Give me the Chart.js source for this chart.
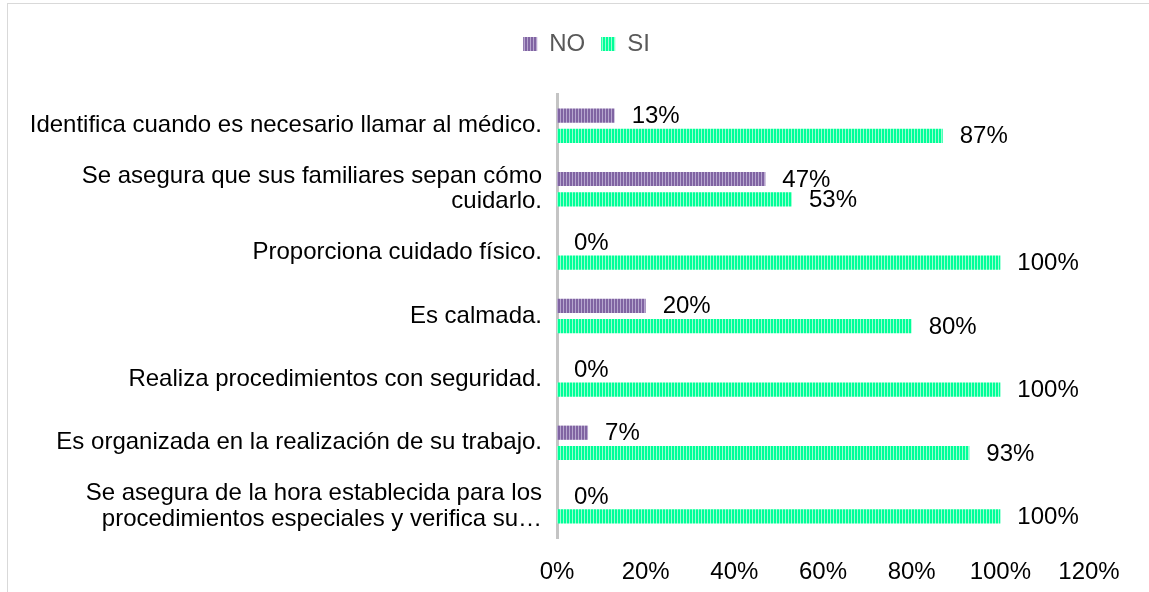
<!DOCTYPE html>
<html>
<head>
<meta charset="utf-8">
<script src="https://cdn.jsdelivr.net/npm/chart.js@4/dist/chart.umd.min.js"></script>
<style>
  html, body { margin: 0; padding: 0; background: #fff; }
  #wrap { position: absolute; left: 0; top: 0; width: 1149px; height: 592px; }
  #frame { position: absolute; left: 7px; top: 3px; width: 1160px; height: 620px; border: 1px solid #d9d9d9; pointer-events: none; }
</style>
</head>
<body>
<div id="wrap"><canvas id="chart" width="1149" height="592"></canvas></div>
<div id="frame"></div>
<script>
// categories top to bottom
const categories = [
  'Identifica cuando es necesario llamar al médico.',
  ['Se asegura que sus familiares sepan cómo', 'cuidarlo.'],
  'Proporciona cuidado físico.',
  'Es calmada.',
  'Realiza procedimientos con seguridad.',
  'Es organizada en la realización de su trabajo.',
  ['Se asegura de la hora establecida para los', 'procedimientos especiales y verifica su…'],
]
const noValues = [13, 47, 0, 20, 0, 7, 0]
const siValues = [87, 53, 100, 80, 100, 93, 100]
const xTicks = [0, 20, 40, 60, 80, 100, 120]

const FONT = "'Liberation Sans', Arial, sans-serif"

// vertical stripe fill like the original
function stripes(dark, light) {
  const c = document.createElement('canvas')
  c.width = 3; c.height = 4
  const g = c.getContext('2d')
  g.fillStyle = dark; g.fillRect(0, 0, 2, 4)
  g.fillStyle = light; g.fillRect(2, 0, 1, 4)
  return g.createPattern(c, 'repeat')
}
const purple = stripes('#8064a2', '#b7a6cf')
const green = stripes('#00ff99', '#99ffd0')

const valueLabels = {
  id: 'valueLabels',
  afterDatasetsDraw(chart) {
    const ctx = chart.ctx
    ctx.save()
    ctx.font = '24px ' + FONT
    ctx.fillStyle = '#000'
    ctx.textAlign = 'left'
    ctx.textBaseline = 'middle'
    chart.data.datasets.forEach((ds, i) => {
      chart.getDatasetMeta(i).data.forEach((bar, j) => {
        ctx.fillText(ds.data[j] + '%', bar.x + 17, bar.y + 1)
      })
    })
    ctx.restore()
  }
}

const legendGap = {
  id: 'legendGap',
  beforeInit(chart) {
    const fit = chart.legend.fit
    chart.legend.fit = function () {
      fit.bind(chart.legend)()
      this.height += 28
    }
  },
  afterLayout(chart) {
    // legend sits a bit right of centre in the original
    chart.legend.left += 42
    chart.legend.right += 42
  }
}

new Chart(document.getElementById('chart'), {
  type: 'bar',
  data: {
    labels: categories,
    datasets: [
      { label: 'NO', data: noValues, backgroundColor: purple, borderWidth: 0 },
      { label: 'SI', data: siValues, backgroundColor: green, borderWidth: 0 },
    ],
  },
  options: {
    indexAxis: 'y',
    responsive: false,
    animation: false,
    categoryPercentage: 0.64,
    barPercentage: 0.7,
    layout: { padding: { left: 0, right: 60, top: 16, bottom: 8 } },
    plugins: {
      legend: {
        position: 'top',
        labels: {
          boxWidth: 14, boxHeight: 14, padding: 16,
          color: '#595959',
          font: { family: FONT, size: 24 },
        },
      },
      tooltip: { enabled: false },
    },
    scales: {
      x: {
        min: 0, max: 120,
        afterBuildTicks: s => { s.ticks = xTicks.map(v => ({ value: v })) },
        afterFit: s => { s.height = 46; s.paddingLeft = 0; s.paddingRight = 0 },
        grid: { display: false, drawTicks: false },
        border: { display: false },
        ticks: { color: '#000', padding: 20, font: { family: FONT, size: 24 }, callback: v => v + '%' },
      },
      y: {
        afterFit: s => { s.width = 557; s.paddingTop = 0; s.paddingBottom = 0 },
        grid: { display: false, drawTicks: false },
        border: { display: true, color: '#c4c4c4', width: 3 },
        ticks: { color: '#000', padding: 15, font: { family: FONT, size: 24, lineHeight: 1.06 } },
      },
    },
  },
  plugins: [valueLabels, legendGap],
})
</script>
</body>
</html>
